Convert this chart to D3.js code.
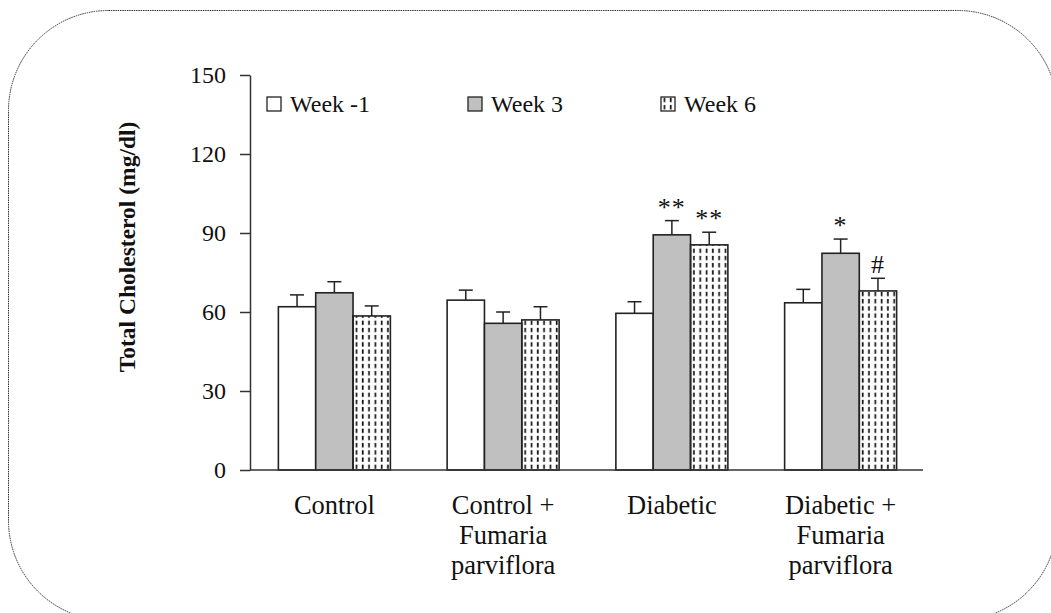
<!DOCTYPE html>
<html>
<head>
<meta charset="utf-8">
<script src="https://cdn.jsdelivr.net/npm/d3@7"></script>
<style>
  html, body { margin: 0; padding: 0; background: #fff; overflow: hidden; }
  svg { display: block; }
</style>
</head>
<body>
<div id="chart"></div>
<script>
// Chart values
const categories = [
  ["Control"],
  ["Control +", "Fumaria", "parviflora"],
  ["Diabetic"],
  ["Diabetic +", "Fumaria", "parviflora"]
];
const series = ["Week -1", "Week 3", "Week 6"];

// means (mg/dl)
const week1 = [62, 64.5, 59.5, 63.5];
const week3 = [67.3, 55.7, 89.3, 82.3];
const week6 = [58.5, 57, 85.5, 68];

// SEM, drawn upward only
const semWeek1 = [4.5, 3.8, 4.4, 5.1];
const semWeek3 = [4.2, 4.3, 5.4, 5.4];
const semWeek6 = [3.8, 5.0, 4.8, 4.8];

// significance marks over the bars
const sigWeek1 = ["", "", "", ""];
const sigWeek3 = ["", "", "**", "*"];
const sigWeek6 = ["", "", "**", "#"];

const yTicks = [0, 30, 60, 90, 120, 150];

const width = 1051;
const height = 613;
const margins = { top: 75, left: 250, right: 126, bottom: 143 };
const innerWidth = width - margins.left - margins.right;
const innerHeight = height - margins.top - margins.bottom;
const serif = '"Liberation Serif", "Times New Roman", "DejaVu Serif", serif';

// build rows for the bars
const means = [week1, week3, week6];
const sems = [semWeek1, semWeek3, semWeek6];
const sigs = [sigWeek1, sigWeek3, sigWeek6];
const rows = [];
categories.forEach((c, i) => {
  series.forEach((s, j) => {
    rows.push({ cat: i, series: s, s: j, value: means[j][i], sem: sems[j][i], sig: sigs[j][i] });
  });
});

const svg = d3.select('#chart')
  .append('svg')
  .attr('width', width)
  .attr('height', height);

// dashed vertical pattern for week 6
svg.append('defs')
  .append('pattern')
  .attr('id', 'dash')
  .attr('patternUnits', 'userSpaceOnUse')
  .attr('width', 6.3)
  .attr('height', 7.2)
  .append('line')
  .attr('x1', 3.4).attr('x2', 3.4)
  .attr('y1', 0.8).attr('y2', 5.2)
  .attr('stroke', '#111')
  .attr('stroke-width', 1.7);

// rounded frame round the figure
svg.append('rect')
  .attr('x', 8.5)
  .attr('y', 10.5)
  .attr('width', 1049)
  .attr('height', 610)
  .attr('rx', 100)
  .attr('ry', 100)
  .attr('fill', 'none')
  .attr('stroke', '#333')
  .attr('stroke-width', 1)
  .attr('stroke-dasharray', '1.5,0.8');

const g = svg.append('g')
  .attr('transform', `translate(${margins.left}, ${margins.top})`);

// scales
const x0 = d3.scaleBand()
  .domain(d3.range(categories.length))
  .range([0, innerWidth])
  .padding(0);

const groupWidth = 112;
const x1 = d3.scaleBand()
  .domain(series)
  .range([0, groupWidth])
  .padding(0);

const yScale = d3.scaleLinear()
  .domain([0, 150])
  .range([innerHeight, 0]);

const fills = ['#fff', '#c0c0c0', 'url(#dash)'];

// y axis
const yAxis = d3.axisLeft(yScale)
  .tickValues(yTicks)
  .tickSize(10)
  .tickSizeOuter(0)
  .tickPadding(14);

const yG = g.append('g').attr('class', 'y axis').call(yAxis);
yG.attr('font-family', null);
yG.select('.domain').attr('stroke', '#333').attr('stroke-width', 1.5);
yG.selectAll('.tick line').attr('stroke', '#333').attr('stroke-width', 1.5);
yG.selectAll('.tick text')
  .attr('fill', '#111')
  .style('font-size', '24px')
  .style('font-family', serif);

// bars
const bars = g.selectAll('g.bar')
  .data(rows)
  .enter()
  .append('g')
  .attr('class', 'bar')
  .attr('transform', d => `translate(${x0(d.cat) + (x0.bandwidth() - groupWidth) / 2 + x1(d.series)}, 0)`);

// error bars first so the bar outline sits over them
bars.append('line')
  .attr('x1', x1.bandwidth() / 2)
  .attr('x2', x1.bandwidth() / 2)
  .attr('y1', d => yScale(d.value))
  .attr('y2', d => yScale(d.value + d.sem))
  .attr('stroke', '#222')
  .attr('stroke-width', 1.5);

bars.append('line')
  .attr('x1', x1.bandwidth() / 2 - 7)
  .attr('x2', x1.bandwidth() / 2 + 7)
  .attr('y1', d => yScale(d.value + d.sem))
  .attr('y2', d => yScale(d.value + d.sem))
  .attr('stroke', '#222')
  .attr('stroke-width', 1.5);

bars.append('rect')
  .attr('x', 0)
  .attr('y', d => yScale(d.value))
  .attr('width', x1.bandwidth())
  .attr('height', d => yScale(0) - yScale(d.value))
  .attr('fill', d => fills[d.s])
  .attr('stroke', '#222')
  .attr('stroke-width', 1.6);

bars.filter(d => d.sig)
  .append('text')
  .attr('x', x1.bandwidth() / 2)
  .attr('y', d => yScale(d.value + d.sem) - 5)
  .attr('text-anchor', 'middle')
  .attr('fill', '#111')
  .style('font-family', serif)
  .style('font-size', '26px')
  .attr('letter-spacing', 1)
  .text(d => d.sig);

// x axis line (no ticks)
g.append('line')
  .attr('x1', 0)
  .attr('x2', x0.range()[1] - 2)
  .attr('y1', yScale(0))
  .attr('y2', yScale(0))
  .attr('stroke', '#333')
  .attr('stroke-width', 1.5);

// category labels, one tspan per line
const catLabels = g.selectAll('text.cat')
  .data(categories)
  .enter()
  .append('text')
  .attr('class', 'cat')
  .attr('text-anchor', 'middle')
  .attr('fill', '#111')
  .style('font-family', serif)
  .style('font-size', '26.5px')
  .attr('transform', (d, i) => `translate(${x0(i) + x0.bandwidth() / 2}, ${yScale(0) + 44})`);

catLabels.selectAll('tspan')
  .data(d => d)
  .enter()
  .append('tspan')
  .attr('x', 0)
  .attr('y', (d, i) => i * 30)
  .text(d => d);

// y axis title
svg.append('text')
  .attr('transform', 'translate(135, 247) rotate(-90)')
  .attr('text-anchor', 'middle')
  .attr('fill', '#111')
  .style('font-family', serif)
  .style('font-size', '23.5px')
  .style('font-weight', 'bold')
  .text('Total Cholesterol (mg/dl)');

// legend
const legendX = [267, 468, 661];
const legend = svg.selectAll('g.legend')
  .data(series)
  .enter()
  .append('g')
  .attr('class', 'legend')
  .attr('transform', (d, i) => `translate(${legendX[i]}, 97)`);

legend.append('rect')
  .attr('width', 14)
  .attr('height', 14)
  .attr('fill', (d, i) => fills[i])
  .attr('stroke', '#222')
  .attr('stroke-width', 1.3);

legend.append('text')
  .attr('x', 23)
  .attr('y', 15)
  .attr('fill', '#111')
  .style('font-family', serif)
  .style('font-size', '24px')
  .text(d => d);
</script>
</body>
</html>
